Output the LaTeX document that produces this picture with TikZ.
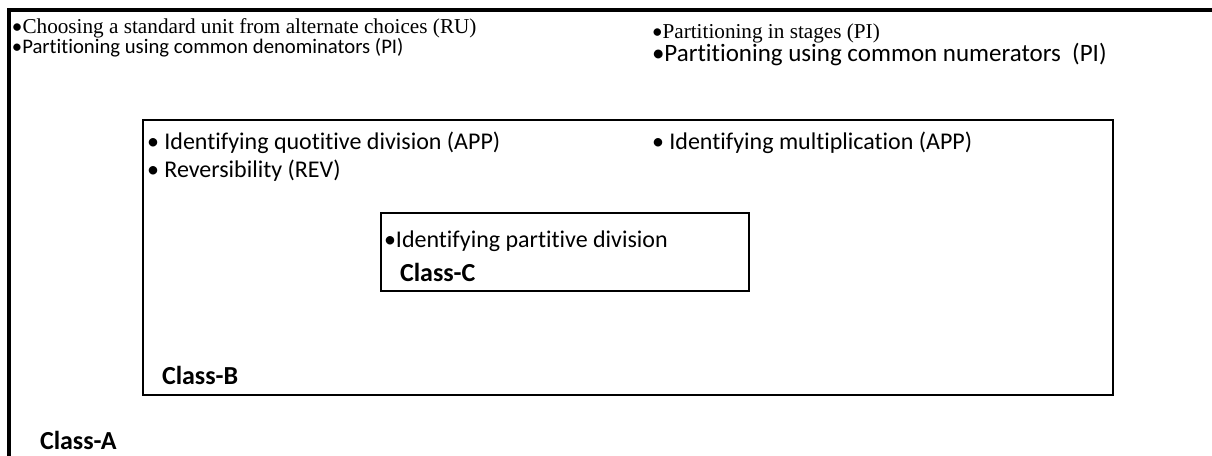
\documentclass[tikz,border=0pt]{standalone}
\usepackage{fontspec}
\setmainfont{Carlito}[Ligatures={NoCommon}]
\newfontfamily\timesfont{Liberation Serif}
\newcommand{\blt}{{\normalfont•}}
\usetikzlibrary{positioning}

\begin{document}
\begin{tikzpicture}[x=1pt, y=-1pt, every node/.style={inner sep=0pt, outer sep=0pt},
  classbox/.style={draw, anchor=north west},
  item/.style={anchor=west, font=\fontsize{24}{28}\selectfont},
  serifitem/.style={anchor=west, font=\fontsize{21.2}{25}\selectfont\timesfont},
  classlabel/.style={anchor=west, font=\fontsize{26}{30}\selectfont\bfseries}]
\useasboundingbox (0,0) rectangle (1212,455);
% nested class boxes
\node[classbox, line width=4pt, minimum width=1300pt, minimum height=600pt] (classA) at (9,10) {};
\node[classbox, line width=2pt, minimum width=970pt, minimum height=275pt] (classB) at (143,120) {};
\node[classbox, line width=1.5pt, minimum width=368pt, minimum height=78pt] (classC) at (381,213) {};
% class A items
\node[serifitem] (ru) at (12,28) {\blt Choosing a standard unit from alternate choices (RU)};
\node[item, font=\fontsize{20.7}{24}\selectfont] (den) at (12,48) {•Partitioning using common denominators (PI)};
\node[serifitem] (stages) at (652,33) {\blt Partitioning in stages (PI)};
\node[item, font=\fontsize{25}{29}\selectfont] (num) at (652,55) {•Partitioning using common numerators~~(PI)};
\node[classlabel] (labA) at (40,440) {Class-A};
% class B items
\node[item] (quot) at (147,143) {• Identifying quotitive division (APP)};
\node[item] (rev) at (147,171) {• Reversibility (REV)};
\node[item] (mult) at (652,143) {• Identifying multiplication (APP)};
\node[classlabel] (labB) at (162,375) {Class-B};
% class C items
\node[item] (part) at (384,241) {•Identifying partitive division};
\node[classlabel] (labC) at (400,272) {Class-C};
\end{tikzpicture}
\end{document}
